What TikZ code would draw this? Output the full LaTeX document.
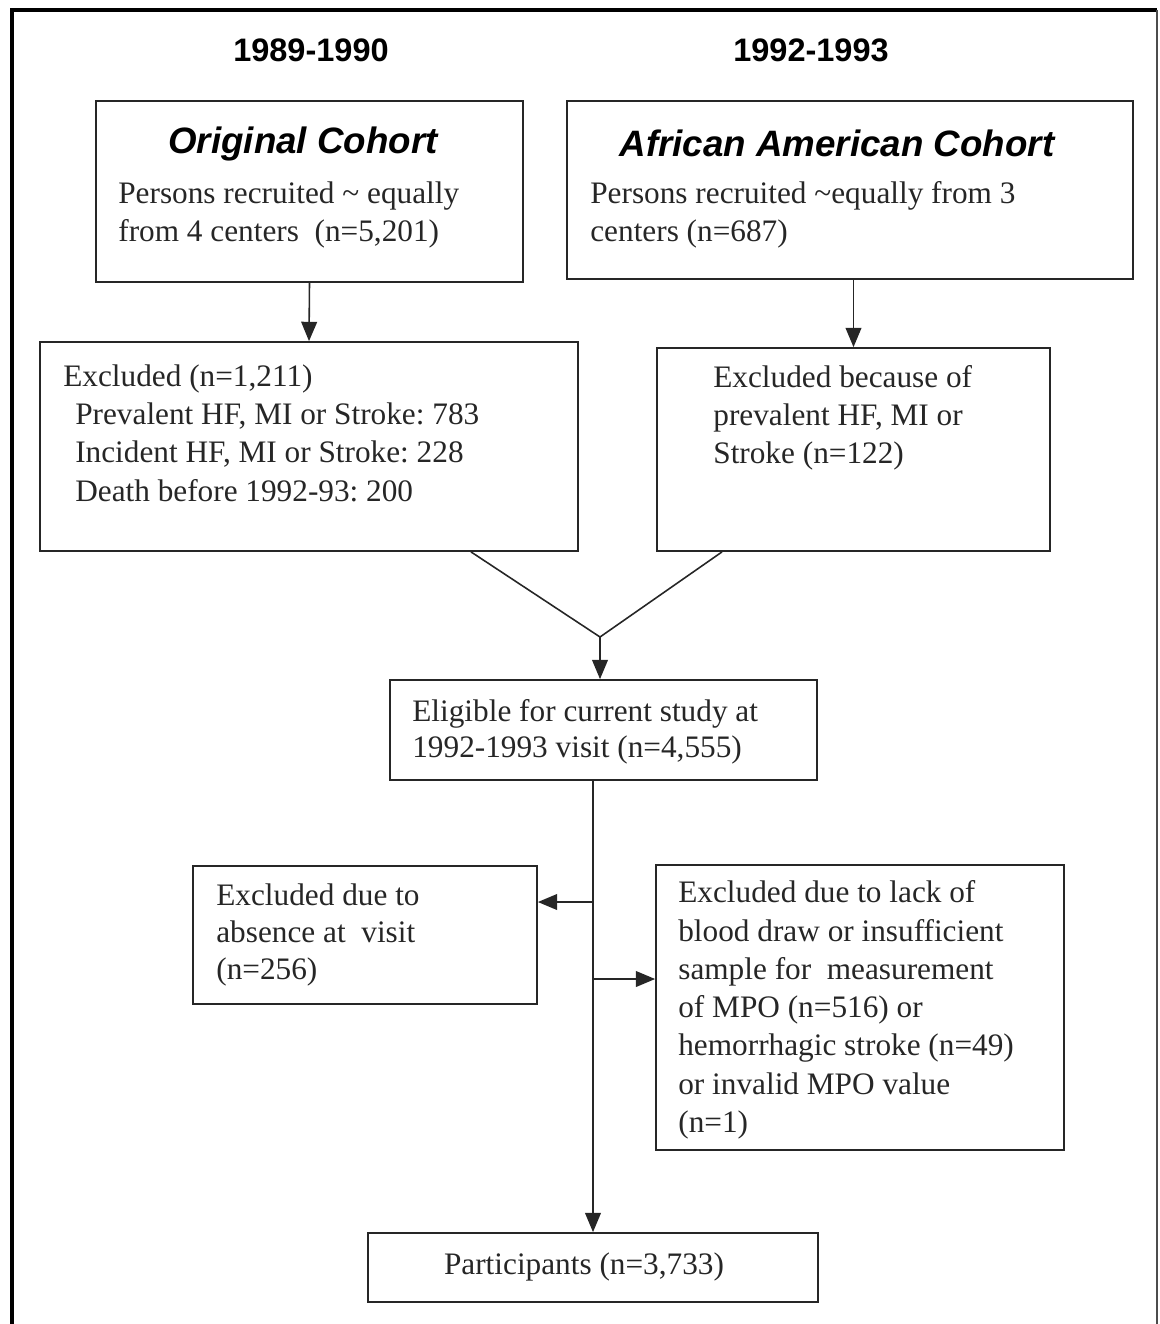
\documentclass[tikz,border=0pt]{standalone}
\usepackage{fontspec}
\setmainfont{Liberation Serif}
\newfontfamily\arialf{Liberation Sans}
\usetikzlibrary{arrows.meta,fit}
\frenchspacing
\begin{document}
\begin{tikzpicture}[x=0.02cm,y=-0.02cm,
  box/.style={draw=black!85,line width=1pt,inner sep=0pt},
  txt/.style={inner sep=0pt,align=left,font=\fontsize{17.8}{21.8}\selectfont,text=black!85},
  yr/.style={inner sep=0pt,font=\arialf\bfseries\fontsize{18.5}{22}\selectfont},
  hd/.style={inner sep=0pt,font=\arialf\bfseries\itshape\fontsize{20.9}{25}\selectfont},
  conn/.style={draw=black!85,line width=0.9pt},
  arr/.style={conn,-{Triangle[length=11pt,width=9pt]}}]
\useasboundingbox (0,0) rectangle (1159,1324);
% outer frame
\draw[line width=2.2pt] (12,1324) -- (12,10) -- (1157,10);
\draw[line width=0.6pt,black!70] (1157,10) -- (1157,1324);
% headings
\node[yr] (y1) at (311,50) {1989-1990};
\node[yr] (y2) at (811,50) {1992-1993};
% boxes
\node[box,fit={(96,101) (523,282)}] (orig) {};
\node[box,fit={(567,101) (1133,279)}] (aa) {};
\node[box,fit={(40,342) (578,551)}] (exL) {};
\node[box,fit={(657,348) (1050,551)}] (exR) {};
\node[box,fit={(390,680) (817,780)}] (elig) {};
\node[box,fit={(193,866) (537,1004)}] (abs) {};
\node[box,fit={(656,865) (1064,1150)}] (mpo) {};
\node[box,fit={(368,1233) (818,1302)}] (part) {};
% texts
\node[hd] (t1h) at (303,144) {Original Cohort};
\node[txt,anchor=west] (t1) at (118,215) {Persons recruited \textasciitilde{} equally\\from 4 centers~ (n=5,201)};
\node[hd] (t2h) at (837,143) {African American Cohort};
\node[txt,anchor=west] (t2) at (590,215) {Persons recruited \textasciitilde equally from 3\\centers (n=687)};
\node[txt,anchor=west] (t3) at (63,433) {Excluded (n=1,211)\\
\hspace*{6.8pt}Prevalent HF, MI or Stroke: 783\\
\hspace*{6.8pt}Incident HF, MI or Stroke: 228\\
\hspace*{6.8pt}Death before 1992-93: 200};
\node[txt,anchor=west] (t4) at (713,418) {Excluded because of\\prevalent HF, MI or\\Stroke (n=122)};
\node[txt,anchor=west,font=\fontsize{17.8}{20.3}\selectfont] (t5) at (412,732) {Eligible for current study at\\1992-1993 visit (n=4,555)};
\node[txt,anchor=west,font=\fontsize{17.8}{21}\selectfont] (t6) at (216,935) {Excluded due to\\absence at~ visit\\(n=256)};
\node[txt,anchor=west] (t7) at (678,1010) {Excluded due to lack of\\blood draw or insufficient\\sample for~ measurement\\of MPO (n=516) or\\hemorrhagic stroke (n=49)\\or invalid MPO value\\(n=1)};
\node[txt] (t8) at (584,1267) {Participants (n=3,733)};
% connectors
\draw[arr] (orig.south) -- (exL.north);
\draw[arr] (aa.south -| exR.north) -- (exR.north);
\coordinate (m) at (600,637);
\draw[conn] ([xshift=3.24cm]exL.south) -- (m) -- ([xshift=-2.63cm]exR.south);
\draw[arr] (m) -- (m |- elig.north);
\draw[arr] (elig.south -| part.north) -- (part.north);
\draw[arr] ([yshift=0.66cm]abs.east -| part.north) -- ([yshift=0.66cm]abs.east);
\draw[arr] ([yshift=0.57cm]mpo.west -| part.north) -- ([yshift=0.57cm]mpo.west);
\end{tikzpicture}
\end{document}
